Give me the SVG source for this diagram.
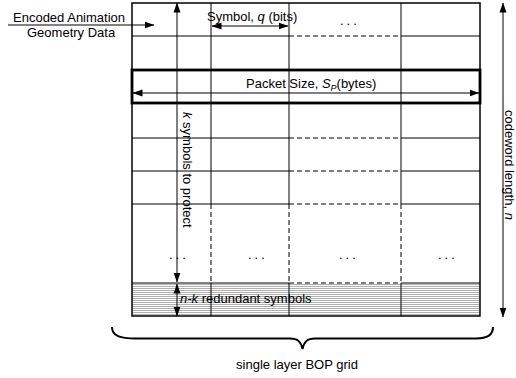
<svg xmlns="http://www.w3.org/2000/svg" width="516" height="378" viewBox="0 0 516 378">
<style>
text{font-family:"Liberation Sans",Arial,sans-serif;font-size:13px;fill:#000}
.ln{stroke:#000;stroke-width:1;fill:none}
.dl{stroke:#000;stroke-width:1;fill:none;stroke-dasharray:5 3}
.bd{stroke:#000;stroke-width:1.5;fill:none}
.ar{stroke:#000;stroke-width:1;fill:none;marker-end:url(#ah)}
.ar2{stroke:#000;stroke-width:1;fill:none;marker-start:url(#ah);marker-end:url(#ah)}
.dots{letter-spacing:3px}
</style>
<defs>
<marker id="ah" markerUnits="userSpaceOnUse" markerWidth="10" markerHeight="8" refX="9.5" refY="4" orient="auto-start-reverse">
<path d="M0,0.5 L10,4 L0,7.5 z" fill="#000"/>
</marker>
<pattern id="hatch" patternUnits="userSpaceOnUse" width="4" height="2">
<rect width="4" height="2" fill="#fff"/>
<rect width="4" height="1" fill="#b0b0b0"/>
</pattern>
</defs>

<g id="grid">
<rect x="132" y="283" width="348" height="33" fill="url(#hatch)"/>
<path class="ln" d="M132,36H289M401,36H480M132,138H289M401,138H480M132,171H289M401,171H480M132,204H289M401,204H480M132,283H289M401,283H480"/>
<path class="dl" d="M289,36H401M289,138H401M289,171H401M289,204H401M289,283H401"/>
<path class="ln" d="M211,3V204M289,3V204M401,3V204M211,283V316M289,283V316M401,283V316"/>
<path class="dl" d="M211,204V283M289,204V283M401,204V283"/>
<rect class="bd" x="132" y="3" width="348" height="313"/>
</g>

<g id="packet">
<rect x="132" y="70" width="348" height="33" fill="none" stroke="#000" stroke-width="2.8"/>
<text x="246" y="88">Packet Size, <tspan font-style="italic">S</tspan><tspan font-style="italic" font-size="9" dy="3">P</tspan><tspan dy="-3">(bytes)</tspan></text>
</g>

<g id="input">
<text x="13" y="22">Encoded Animation</text>
<text x="27" y="37">Geometry Data</text>
</g>

<g id="symbol">
<text x="207" y="21">Symbol, <tspan font-style="italic">q</tspan> (bits)</text>
</g>

<g id="ellipses">
<text class="dots" x="340" y="25">...</text>
<text class="dots" x="169" y="259">...</text>
<text class="dots" x="248" y="259">...</text>
<text class="dots" x="339" y="259">...</text>
<text class="dots" x="438" y="259">...</text>
</g>

<g id="k-label">
<text transform="translate(183,112) rotate(90)"><tspan font-style="italic">k</tspan> symbols to protect</text>
</g>

<g id="nk-label">
<text x="180" y="303"><tspan font-style="italic">n-k</tspan> redundant symbols</text>
</g>

<g id="codeword-label">
<text transform="translate(505,110) rotate(90)" font-size="12.5">codeword length, <tspan font-style="italic">n</tspan></text>
</g>

<g id="brace">
<path d="M112,327 C112,336 120,338.5 136,338.5 L290,338.5 C298,338.5 301,342 302.5,349 C304,342 307,338.5 315,338.5 L476,338.5 C487,338.5 493,335 493,327" fill="none" stroke="#000" stroke-width="2"/>
<text x="297" y="369" text-anchor="middle">single layer BOP grid</text>
</g>

<g id="connectors">
<path class="ar" d="M8,25H154"/>
<path class="ar2" d="M212,26H288"/>
<path class="ar2" d="M133,93H479"/>
<path class="ar2" d="M177,3V282"/>
<path class="ar2" d="M177,284V316"/>
<path class="ar2" d="M503,3V317"/>
</g>
</svg>
